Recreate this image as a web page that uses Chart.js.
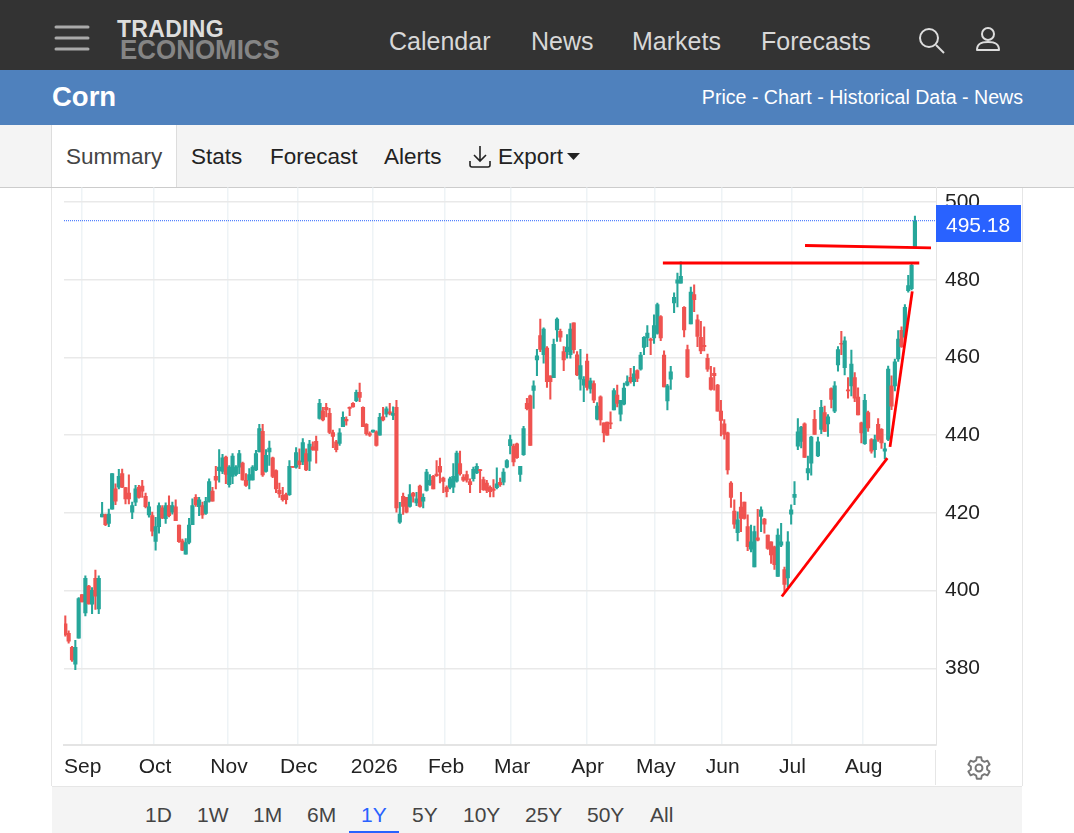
<!DOCTYPE html>
<html lang="en">
<head>
<meta charset="UTF-8">
<title>Corn</title>
<script src="https://cdn.jsdelivr.net/npm/chart.js"></script>
<style>
    html, body { margin: 0; padding: 0; background: #fff; }
    body { width: 1074px; height: 833px; position: relative; overflow: hidden; font-family: "Liberation Sans", Arial, sans-serif; }
    .box { position: absolute; }
    .t { position: absolute; white-space: nowrap; }
    .nav { top: 21px; line-height: 40px; font-size: 25px; color: #d8d8d8; }
    .tab { top: 137px; line-height: 40px; font-size: 22.5px; color: #222; }
    .rng { top: 797px; line-height: 36px; font-size: 21px; color: #444; }
    canvas { position: absolute; left: 52px; top: 166px; }
</style>
</head>
<body>
<!-- top bar -->
<div class="box" style="left:0;top:0;width:1074px;height:70px;background:#333"></div>
<svg class="box" style="left:54px;top:24px" width="38" height="30">
    <path d="M2 3H34M2 14H34M2 25H34" stroke="#aaa" stroke-width="3" stroke-linecap="round"/>
</svg>
<div class="t" style="left:117px;top:16px;font-size:23px;line-height:26px;font-weight:bold;color:#ddd;letter-spacing:.3px">TRADING</div>
<div class="t" style="left:120px;top:36px;font-size:27px;line-height:28px;font-weight:bold;color:#858585;transform:scaleX(.96);transform-origin:left">ECONOMICS</div>
<div class="t nav" style="left:389px">Calendar</div>
<div class="t nav" style="left:531px">News</div>
<div class="t nav" style="left:632px">Markets</div>
<div class="t nav" style="left:761px">Forecasts</div>
<svg class="box" style="left:916px;top:25px" width="30" height="30" fill="none" stroke="#ddd" stroke-width="2">
    <circle cx="13" cy="13" r="9"/><path d="M20 20L28 28"/>
</svg>
<svg class="box" style="left:974px;top:25px" width="30" height="30" fill="none" stroke="#ddd" stroke-width="2">
    <circle cx="14" cy="9" r="6"/><path d="M3 25C3 18 8 17 14 17S25 18 25 25Z" stroke-linejoin="round"/>
</svg>

<!-- title bar -->
<div class="box" style="left:0;top:70px;width:1074px;height:55px;background:#4f81bd"></div>
<div class="t" style="left:52px;top:77px;line-height:40px;font-size:27.5px;font-weight:bold;color:#fff">Corn</div>
<div class="t" style="right:51px;top:77px;line-height:40px;font-size:19.6px;color:#fff">Price - Chart - Historical Data - News</div>

<!-- tab bar -->
<div class="box" style="left:0;top:125px;width:1074px;height:62px;background:#f4f4f4;border-bottom:1px solid #ccc"></div>
<div class="box" style="left:51px;top:125px;width:124px;height:62px;background:#fff;border-left:1px solid #ddd;border-right:1px solid #ddd"></div>
<div class="t tab" style="left:66px;color:#444">Summary</div>
<div class="t tab" style="left:191px">Stats</div>
<div class="t tab" style="left:270px">Forecast</div>
<div class="t tab" style="left:384px">Alerts</div>
<svg class="box" style="left:468px;top:144px" width="26" height="26" fill="none" stroke="#222" stroke-width="1.6">
    <path d="M12 2V17M6 11L12 17L18 11M2 17V21Q2 23 4 23H20Q22 23 22 21V17"/>
</svg>
<div class="t tab" style="left:498px">Export</div>
<svg class="box" style="left:567px;top:152px" width="14" height="9"><path d="M0 1H13L6.5 8Z" fill="#222"/></svg>

<!-- chart frame -->
<div class="box" style="left:51px;top:188px;width:1px;height:598px;background:#e6e6e6"></div>
<div class="box" style="left:1022px;top:188px;width:1px;height:598px;background:#e6e6e6"></div>
<canvas id="chart" width="970" height="619"></canvas>
<div class="box" style="left:935px;top:750px;width:1px;height:35px;background:#e6e6e6"></div>
<div class="box" style="left:936px;top:205px;width:85px;height:37px;background:#2962ff"></div>
<div class="t" style="left:946px;top:205px;line-height:39px;font-size:21px;color:#fff">495.18</div>
<svg class="box" style="left:966px;top:755px" width="26" height="26" viewBox="0 0 24 24" fill="none" stroke="#777" stroke-width="1.8" stroke-linejoin="round">
    <path d="M10 2H14L14.6 5L17 6.3L19.8 5.2L21.8 8.7L19.5 10.7V13.3L21.8 15.3L19.8 18.8L17 17.7L14.6 19L14 22H10L9.4 19L7 17.7L4.2 18.8L2.2 15.3L4.5 13.3V10.7L2.2 8.7L4.2 5.2L7 6.3L9.4 5Z"/>
    <circle cx="12" cy="12" r="3.2"/>
</svg>

<!-- range bar -->
<div class="box" style="left:52px;top:786px;width:970px;height:47px;background:#f4f4f4;border-top:1px solid #e6e6e6"></div>
<div class="t rng" style="left:145px">1D</div>
<div class="t rng" style="left:197px">1W</div>
<div class="t rng" style="left:253px">1M</div>
<div class="t rng" style="left:307px">6M</div>
<div class="t rng" style="left:361px;color:#2962ff">1Y</div>
<div class="box" style="left:349px;top:831px;width:50px;height:2px;background:#2962ff"></div>
<div class="t rng" style="left:412px">5Y</div>
<div class="t rng" style="left:463px">10Y</div>
<div class="t rng" style="left:525px">25Y</div>
<div class="t rng" style="left:587px">50Y</div>
<div class="t rng" style="left:650px">All</div>

<script>
    // Candles
    const opens = [
        391.5,389.0,385.4,381.1,387.8,399.0,394.3,401.2,396.5,403.2,
        395.3,419.0,419.6,417.3,421.0,426.2,426.6,430.1,426.5,425.1,
        420.2,422.8,426.6,426.9,424.3,419.5,419.3,412.7,416.5,421.3,
        418.5,421.9,420.2,421.6,416.9,412.8,409.4,412.4,417.0,424.0,
        421.6,421.9,419.9,423.0,425.6,429.4,430.9,430.7,434.4,427.3,
        429.4,429.9,431.8,432.8,428.4,428.4,428.5,431.1,435.7,441.0,
        430.7,435.7,434.2,430.9,425.8,424.5,424.7,424.7,432.0,431.8,
        433.4,433.1,435.3,433.3,437.0,438.4,444.3,446.3,447.2,445.6,
        440.7,438.3,437.9,442.2,444.1,447.2,448.2,448.9,451.0,447.2,
        442.8,440.4,440.8,440.9,440.0,444.7,445.4,446.0,445.1,447.2,
        417.6,424.3,424.0,421.7,425.1,422.6,426.9,423.0,425.8,427.3,
        429.4,430.0,432.0,429.0,426.6,426.6,426.6,428.2,432.7,429.2,
        429.9,428.1,428.8,430.3,431.1,428.6,427.7,426.6,426.2,426.5,
        427.9,427.9,431.8,437.3,437.2,437.8,429.9,435.0,448.2,450.1,
        451.5,459.4,465.6,460.7,462.4,455.3,454.8,467.1,466.7,461.5,
        461.5,460.7,468.9,460.7,454.4,452.9,459.1,451.9,453.3,444.1,
        449.9,443.2,443.4,443.1,446.5,450.3,445.4,448.0,452.9,454.9,
        453.8,456.6,457.0,462.6,465.0,464.7,465.0,466.2,470.5,460.6,
        448.8,454.4,474.0,479.1,479.1,472.9,462.0,468.6,476.2,469.7,
        465.2,463.1,459.8,454.8,455.9,452.9,446.2,442.9,440.6,427.7,
        420.5,414.9,421.5,422.8,416.5,410.7,406.1,413.6,419.1,418.4,
        414.3,412.6,411.3,403.7,411.7,405.4,403.3,419.7,424.0,437.2,
        438.4,442.9,430.3,432.8,444.1,434.7,441.5,445.8,442.9,452.0,
        446.2,458.1,463.6,457.4,451.6,452.7,454.8,449.8,443.2,437.8,
        445.8,438.9,436.3,442.8,441.5,435.9,438.9,452.7,452.7,459.6,
        467.0,465.2,477.2,477.7,488.4
    ];
    const closes = [
        388.7,387.0,382.2,385.4,398.0,397.1,403.2,396.6,400.1,398.6,
        403.2,419.7,417.0,419.7,430.1,423.0,429.4,426.6,423.6,423.6,
        421.9,426.2,424.0,425.6,421.6,421.6,415.3,416.5,421.9,418.7,
        421.9,419.3,421.9,418.0,412.6,410.4,412.4,416.9,421.9,422.1,
        423.4,419.5,423.0,428.1,423.0,428.4,431.8,434.2,429.9,431.8,
        434.6,431.8,435.3,428.5,427.1,429.9,431.8,435.3,441.7,429.8,
        434.8,436.7,429.4,426.2,424.9,423.4,423.4,432.0,431.7,435.5,
        432.4,438.1,431.1,437.7,436.3,436.1,448.2,443.9,446.5,440.7,
        439.7,436.3,440.6,444.6,443.7,446.9,447.3,451.0,449.7,442.2,
        440.4,440.0,441.3,437.4,444.6,443.9,446.8,445.6,445.6,421.3,
        419.7,421.7,420.2,424.7,424.3,423.6,421.7,424.0,430.5,428.4,
        426.2,429.6,430.5,428.1,425.5,428.8,429.4,435.4,430.1,428.4,
        428.4,427.3,431.2,432.0,430.9,426.0,425.8,425.5,425.8,427.5,
        427.3,430.5,433.5,438.9,433.1,434.2,432.0,441.7,446.8,437.4,
        452.7,460.4,462.1,467.3,453.8,453.8,463.4,469.9,465.2,459.4,
        462.7,467.3,462.0,455.5,457.9,454.4,452.3,454.0,449.0,447.5,
        443.9,440.6,440.0,442.9,451.5,448.2,449.0,452.1,453.8,453.8,
        455.8,454.6,460.6,465.2,466.3,464.4,468.2,473.6,465.0,452.4,
        452.7,456.3,475.5,480.0,480.9,467.1,455.0,476.8,474.9,465.4,
        461.7,462.8,457.0,451.8,455.3,446.2,443.8,440.2,431.1,424.0,
        417.1,418.2,418.6,418.6,411.3,412.6,415.2,413.0,420.8,417.1,
        410.9,409.2,406.7,414.3,412.6,401.6,412.6,420.8,424.8,440.9,
        442.1,434.3,431.4,439.5,440.2,438.3,447.2,441.0,444.7,449.2,
        452.7,462.0,463.4,464.3,451.4,458.3,449.5,445.2,440.6,449.0,
        441.9,435.9,438.9,438.9,438.0,436.5,457.0,447.5,458.9,464.7,
        462.8,472.9,478.5,483.7,495.18
    ];
    const highs = [
        393.5,389.7,385.7,387.2,398.2,399.0,403.8,401.4,400.8,405.3,
        403.8,422.7,419.7,421.0,430.1,427.5,431.2,431.3,426.6,429.8,
        422.8,427.1,427.1,428.4,425.1,422.8,420.2,418.9,422.6,421.9,
        422.6,424.4,422.8,423.4,416.9,413.3,413.4,418.6,423.6,424.7,
        424.0,422.8,424.0,428.8,426.6,432.0,436.3,435.1,434.6,432.2,
        435.3,432.2,436.1,433.1,430.1,431.4,432.2,436.1,442.8,442.8,
        436.3,438.5,434.4,431.1,427.7,426.6,425.1,433.5,432.0,436.8,
        436.5,439.1,436.5,438.7,438.3,439.8,449.2,447.2,448.2,446.9,
        441.3,438.7,441.7,446.0,444.7,447.3,448.4,451.6,453.4,447.3,
        443.0,440.9,441.3,441.1,445.6,447.2,447.3,448.2,447.3,449.0,
        422.7,425.1,424.0,427.3,425.3,425.3,427.2,424.9,431.2,429.9,
        429.7,433.5,434.1,429.2,427.0,429.2,432.7,435.9,435.9,429.9,
        430.8,428.8,431.8,432.7,431.2,429.2,428.4,427.0,428.6,431.6,
        429.0,431.4,433.7,440.0,437.7,438.0,432.0,442.3,449.5,450.3,
        454.0,462.1,469.9,467.6,462.8,455.3,464.7,470.2,467.3,462.8,
        465.9,468.7,468.9,461.5,462.1,455.1,460.9,454.7,454.0,448.4,
        450.1,443.2,443.4,446.0,452.0,452.9,449.0,453.4,455.3,457.2,
        457.7,456.8,461.3,465.4,468.2,465.0,471.0,474.0,470.8,461.7,
        453.1,457.7,476.6,481.7,484.6,473.1,463.2,478.1,478.7,471.0,
        469.3,467.9,460.9,457.7,457.4,453.1,449.0,444.0,440.8,428.1,
        423.4,420.3,425.3,422.8,419.5,416.9,416.6,420.9,421.6,418.6,
        414.3,412.6,411.5,415.9,417.3,406.1,415.2,422.1,428.1,444.3,
        442.3,443.2,434.6,439.7,446.4,439.5,449.0,447.5,445.3,452.2,
        453.8,462.8,466.7,465.3,454.8,461.9,456.1,452.2,443.4,450.5,
        446.2,439.1,440.0,444.3,441.7,438.0,457.8,455.3,459.6,466.9,
        467.9,473.6,481.1,484.3,496.4
    ];
    const lows = [
        388.3,386.5,381.8,379.7,387.8,397.1,393.5,396.5,394.1,395.2,
        394.1,419.0,416.7,416.5,421.0,422.1,426.2,426.5,422.3,422.3,
        418.5,421.9,423.8,424.0,421.3,418.9,414.1,410.4,414.8,418.5,
        417.3,419.0,419.7,418.0,412.4,410.3,409.4,412.0,417.0,421.7,
        419.3,418.6,419.6,422.8,423.0,426.2,427.9,430.1,427.5,426.6,
        427.5,429.5,430.1,428.4,426.8,426.2,428.4,430.9,435.7,429.4,
        430.5,432.2,429.1,425.2,424.0,423.0,422.3,424.5,431.7,431.5,
        431.4,432.4,430.9,430.9,436.1,432.8,444.1,443.7,444.7,440.4,
        436.8,435.7,437.4,442.2,442.6,445.0,447.2,448.6,448.6,442.2,
        440.0,439.7,440.8,437.2,440.0,443.7,444.7,445.2,444.0,420.2,
        417.3,419.6,420.0,421.5,422.8,421.9,421.5,421.3,425.6,427.1,
        426.2,429.4,427.7,425.2,424.1,426.2,425.2,427.9,429.7,428.1,
        427.9,425.2,428.2,430.1,425.2,425.8,425.2,424.1,424.1,426.2,
        426.8,427.2,431.6,435.2,432.1,434.0,428.1,434.8,446.5,437.4,
        446.9,455.3,461.5,458.5,452.3,449.3,454.8,464.1,464.1,456.6,
        459.8,459.8,461.1,455.3,451.6,448.6,451.6,450.8,448.4,443.9,
        442.6,438.3,440.0,441.7,446.5,447.3,443.7,447.8,452.7,453.4,
        452.7,453.8,456.7,460.7,462.8,460.7,463.6,466.0,464.3,452.4,
        446.5,451.8,471.5,473.0,479.1,465.3,454.8,468.6,471.8,462.8,
        461.0,461.7,456.4,451.6,451.6,446.2,439.8,439.0,430.0,421.4,
        416.0,412.8,415.2,418.4,410.3,410.0,406.1,412.8,415.2,414.8,
        410.6,407.0,405.5,403.7,411.3,399.7,401.0,417.1,422.1,436.3,
        436.7,434.3,428.5,429.7,440.2,434.5,440.4,440.9,439.7,447.0,
        445.8,456.5,460.7,455.5,449.5,450.1,448.6,445.2,438.0,437.6,
        441.0,435.4,434.3,438.4,436.6,433.9,438.6,446.6,451.4,459.0,
        462.6,464.7,476.8,477.4,488.3
    ];

    // Axis labels
    const monthLabels = ['Sep', 'Oct', 'Nov', 'Dec', '2026', 'Feb', 'Mar', 'Apr', 'May', 'Jun', 'Jul', 'Aug'];
    const monthBars = [4.9, 26.55, 48.65, 69.5, 92.05, 113.55, 133.3, 155.85, 176.25, 196.25, 217.1, 238.4];
    const priceTicks = [380, 400, 420, 440, 460, 480, 500];
    const lastPrice = 495.18;

    // Hand drawn red trend lines: [bar, price] ends
    const trendLines = [
        [[178.65, 484.3], [255.3, 484.3]],
        [[221.15, 488.8], [258.8, 488.2]],
        [[214.2, 398.5], [245.75, 434.1]],
        [[246.55, 437.0], [253.2, 477.0]]
    ];

    const UP = '#26a69a';
    const DOWN = '#ef5350';
    const FONT = '"Liberation Sans", Arial, sans-serif';
    const X_MIN = -0.39, X_MAX = 260.3;

    const barColors = closes.map((c, i) => c >= opens[i] ? UP : DOWN);

    const datasets = [
        {
            label: 'Wicks',
            type: 'bar',
            data: lows.map((l, i) => ({ x: i, y: [l, highs[i]] })),
            backgroundColor: barColors,
            barThickness: 1.4,
            grouped: false,
            order: 4
        },
        {
            label: 'Bodies',
            type: 'bar',
            data: opens.map((o, i) => ({ x: i, y: [o, closes[i]] })),
            backgroundColor: barColors,
            barThickness: 3.5,
            minBarLength: 1,
            grouped: false,
            order: 3
        },
        {
            label: 'Last',
            type: 'line',
            data: [{ x: X_MIN, y: lastPrice }, { x: X_MAX, y: lastPrice }],
            borderColor: '#2962ff',
            borderWidth: 1,
            borderDash: [1, 1],
            pointRadius: 0,
            order: 2
        }
    ];
    trendLines.forEach(line => {
        datasets.push({
            label: 'Trend',
            type: 'line',
            data: line.map(p => ({ x: p[0], y: p[1] })),
            borderColor: '#ff0000',
            borderWidth: 2.8,
            pointRadius: 0,
            clip: false,
            order: 1
        });
    });

    new Chart(document.getElementById('chart'), {
        type: 'bar',
        data: { datasets: datasets },
        options: {
            responsive: false,
            animation: false,
            devicePixelRatio: 1,
            layout: { padding: { left: 12, top: 0, right: 0, bottom: 0 } },
            plugins: { legend: { display: false }, tooltip: { enabled: false } },
            scales: {
                x: {
                    type: 'linear',
                    offset: false,
                    min: X_MIN,
                    max: X_MAX,
                    afterBuildTicks: axis => { axis.ticks = monthBars.map(v => ({ value: v })); },
                    afterFit: axis => { axis.height = 40; },
                    grid: { color: '#eef3f6', lineWidth: 1.5, offset: false, drawTicks: false },
                    border: { color: '#e4e4e4', width: 2 },
                    ticks: {
                        callback: (v, i) => monthLabels[i],
                        autoSkip: false,
                        maxRotation: 0,
                        minRotation: 0,
                        padding: 10,
                        labelOffset: 1,
                        color: '#222',
                        font: { family: FONT, size: 21 }
                    }
                },
                y: {
                    position: 'right',
                    min: 360.3,
                    max: 503.7,
                    afterBuildTicks: axis => { axis.ticks = priceTicks.map(v => ({ value: v })); },
                    afterFit: axis => { axis.width = 86; },
                    grid: { color: '#e9e9e9', lineWidth: 1.5, drawTicks: false },
                    border: { color: '#e4e4e4', width: 1 },
                    ticks: {
                        autoSkip: false,
                        padding: 9,
                        color: '#222',
                        font: { family: FONT, size: 21 }
                    }
                }
            }
        }
    });
</script>
</body>
</html>
